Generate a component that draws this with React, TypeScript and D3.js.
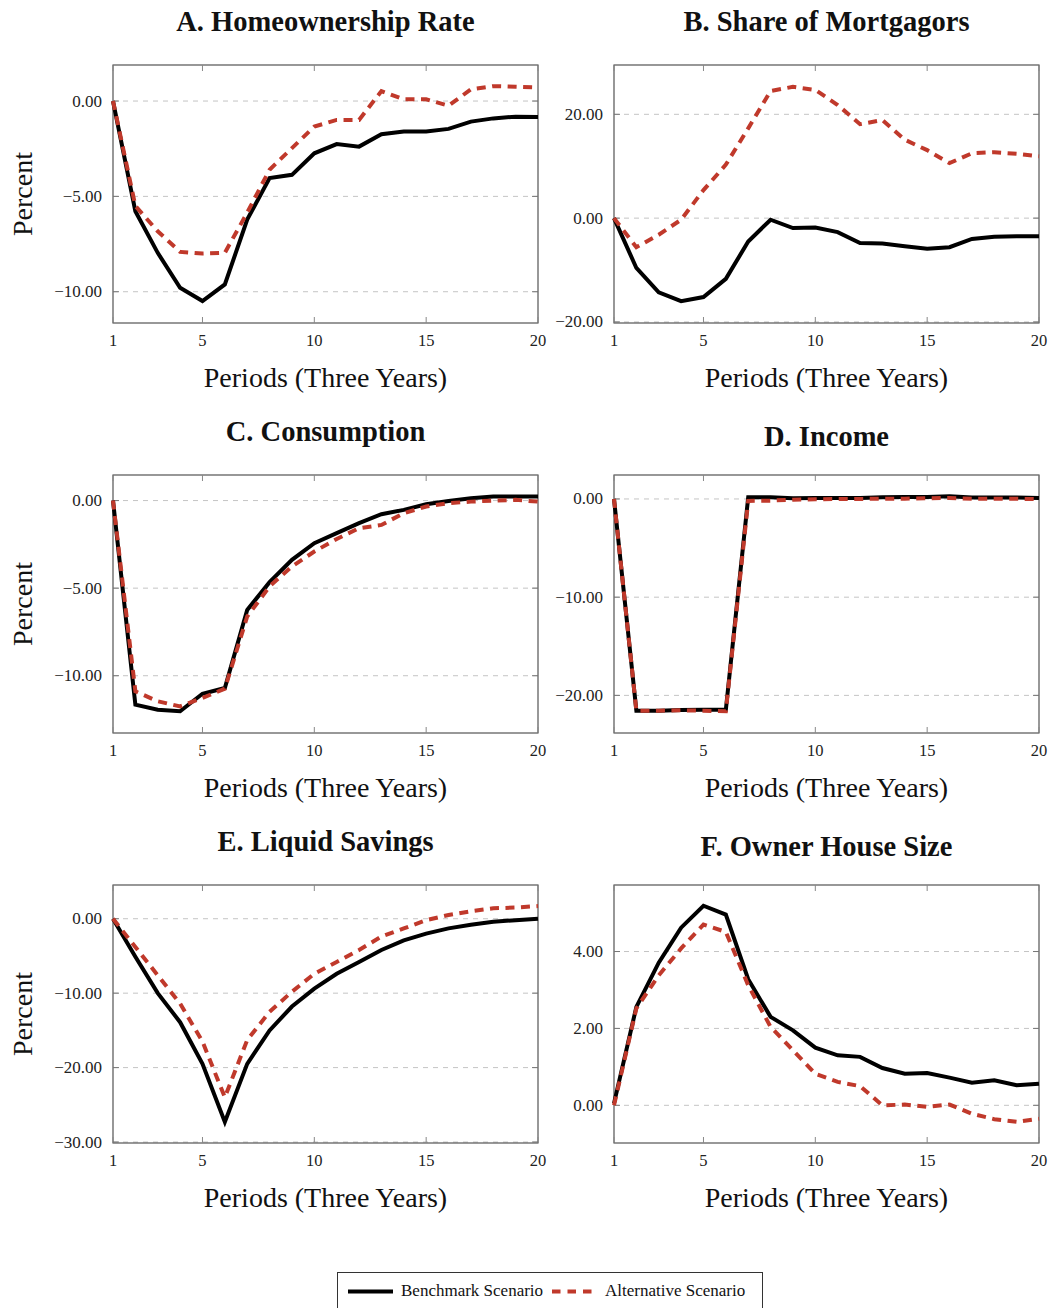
import React from 'react';
import * as d3 from 'd3';

// ---------- DATA ----------
const periods = [1, 2, 3, 4, 5, 6, 7, 8, 9, 10, 11, 12, 13, 14, 15, 16, 17, 18, 19, 20];
const xTicks = [1, 5, 10, 15, 20];

const homeBench = [0, -5.78, -7.96, -9.79, -10.49, -9.62, -6.22, -4.04, -3.87, -2.74, -2.26, -2.39, -1.74, -1.6, -1.6, -1.46, -1.08, -0.91, -0.82, -0.84];
const homeAlt = [0, -5.5, -6.83, -7.91, -8.0, -7.96, -5.85, -3.6, -2.47, -1.34, -0.99, -0.99, 0.52, 0.09, 0.09, -0.24, 0.61, 0.78, 0.75, 0.71];

const mortBench = [0, -9.6, -14.3, -16.0, -15.2, -11.7, -4.5, -0.3, -1.9, -1.8, -2.7, -4.8, -4.9, -5.4, -5.9, -5.6, -4.0, -3.6, -3.5, -3.5];
const mortAlt = [0, -5.6, -3.2, -0.3, 5.4, 10.3, 17.3, 24.5, 25.3, 24.7, 21.8, 18.1, 18.9, 15.1, 13.1, 10.6, 12.5, 12.7, 12.4, 11.9];

const consBench = [0, -11.65, -11.94, -12.03, -11.03, -10.7, -6.24, -4.66, -3.38, -2.43, -1.86, -1.29, -0.78, -0.53, -0.21, -0.02, 0.13, 0.23, 0.23, 0.23];
const consAlt = [0, -10.89, -11.46, -11.75, -11.27, -10.74, -6.62, -4.9, -3.76, -2.91, -2.19, -1.58, -1.39, -0.72, -0.34, -0.15, -0.06, 0.0, 0.04, -0.06];

const incBench = [0, -21.56, -21.56, -21.5, -21.46, -21.46, 0.17, 0.17, 0.07, 0.1, 0.1, 0.1, 0.17, 0.2, 0.2, 0.27, 0.14, 0.14, 0.14, 0.1];
const incAlt = [0, -21.56, -21.56, -21.52, -21.56, -21.62, -0.2, -0.17, -0.07, -0.03, 0.0, 0.0, 0.03, 0.03, 0.07, 0.1, 0.03, 0.03, 0.03, -0.03];

const savBench = [0, -5.1, -10.0, -13.9, -19.5, -27.3, -19.5, -15.0, -11.8, -9.4, -7.4, -5.8, -4.2, -2.9, -2.0, -1.3, -0.8, -0.4, -0.2, 0.0];
const savAlt = [0, -3.8, -7.6, -11.4, -16.5, -24.0, -16.3, -12.5, -9.8, -7.4, -5.8, -4.2, -2.4, -1.3, -0.2, 0.5, 1.0, 1.4, 1.5, 1.7];

const houseBench = [0.05, 2.56, 3.71, 4.62, 5.19, 4.96, 3.28, 2.3, 1.95, 1.5, 1.3, 1.26, 0.97, 0.82, 0.84, 0.72, 0.59, 0.65, 0.52, 0.56];
const houseAlt = [0, 2.52, 3.38, 4.08, 4.7, 4.51, 3.12, 2.04, 1.43, 0.82, 0.61, 0.5, 0.0, 0.02, -0.04, 0.02, -0.22, -0.36, -0.43, -0.35];

const titles = ['A. Homeownership Rate', 'B. Share of Mortgagors', 'C. Consumption', 'D. Income', 'E. Liquid Savings', 'F. Owner House Size'];
const yDomains: [number, number][] = [[-11.64, 1.89], [-20.2, 29.5], [-13.27, 1.46], [-23.83, 2.44], [-30.13, 4.53], [-0.98, 5.73]];
const yTicksList = [[-10, -5, 0], [-20, 0, 20], [-10, -5, 0], [-20, -10, 0], [-30, -20, -10, 0], [0, 2, 4]];
const benchSeries = [homeBench, mortBench, consBench, incBench, savBench, houseBench];
const altSeries = [homeAlt, mortAlt, consAlt, incAlt, savAlt, houseAlt];

const xLabel = 'Periods (Three Years)';
const yLabel = 'Percent';
const legendLabels = ['Benchmark Scenario', 'Alternative Scenario'];

// ---------- STYLE / LAYOUT ----------
const FONT = '"Liberation Serif", "Times New Roman", serif';
const RED = '#c0392b';
const W = 425;
const H = 258;
const lefts = [113, 614];
const tops = [65, 475, 885];
const titleBaselines = [31, 31, 441, 446, 851, 856];

const fmt = d3.format('.2f');

function Panel({ idx }: { idx: number }) {
  const col = idx % 2;
  const row = Math.floor(idx / 2);
  const left = lefts[col];
  const top = tops[row];
  const x = d3.scaleLinear().domain([1, 20]).range([left, left + W]);
  const y = d3.scaleLinear().domain(yDomains[idx]).range([top + H, top]);
  const line = d3
    .line<number>()
    .x((_, i) => x(periods[i]))
    .y((d) => y(d));
  const cx = left + W / 2;
  return (
    <g>
      <text x={cx} y={titleBaselines[idx]} textAnchor="middle" fontFamily={FONT} fontWeight="bold" fontSize={28.5} fill="#111">
        {titles[idx]}
      </text>
      {/* grid */}
      {yTicksList[idx].map((t) => (
        <line key={'g' + t} x1={left} x2={left + W} y1={y(t)} y2={y(t)} stroke="#c4c4c4" strokeWidth={1} strokeDasharray="5,5" />
      ))}
      {/* frame */}
      <rect x={left} y={top} width={W} height={H} fill="none" stroke="#444" strokeWidth={1.1} />
      {/* x ticks */}
      {xTicks.map((t) => (
        <g key={'x' + t}>
          <line x1={x(t)} x2={x(t)} y1={top} y2={top + 6} stroke="#888" strokeWidth={1} />
          <line x1={x(t)} x2={x(t)} y1={top + H} y2={top + H - 6} stroke="#888" strokeWidth={1} />
          <text x={x(t)} y={top + H + 23} textAnchor="middle" fontFamily={FONT} fontSize={16.5} fill="#222">
            {t}
          </text>
        </g>
      ))}
      {/* y ticks */}
      {yTicksList[idx].map((t) => (
        <g key={'y' + t}>
          <line x1={left} x2={left + 6} y1={y(t)} y2={y(t)} stroke="#777" strokeWidth={1} />
          <line x1={left + W} x2={left + W - 6} y1={y(t)} y2={y(t)} stroke="#777" strokeWidth={1} />
          <text x={left - 11} y={y(t) + 5.5} textAnchor="end" fontFamily={FONT} fontSize={17} fill="#222">
            {fmt(t)}
          </text>
        </g>
      ))}
      {/* series */}
      <path d={line(benchSeries[idx]) || ''} fill="none" stroke="#000" strokeWidth={4} strokeLinejoin="miter" />
      <path d={line(altSeries[idx]) || ''} fill="none" stroke={RED} strokeWidth={4} strokeDasharray="9,6.5" />
      {/* axis labels */}
      <text x={cx} y={top + H + 64} textAnchor="middle" fontFamily={FONT} fontSize={28} fill="#111">
        {xLabel}
      </text>
      {col === 0 && (
        <text transform={`translate(32, ${top + H / 2}) rotate(-90)`} textAnchor="middle" fontFamily={FONT} fontSize={28} fill="#111">
          {yLabel}
        </text>
      )}
    </g>
  );
}

function Legend() {
  return (
    <g>
      <rect x={337.5} y={1272.5} width={425} height={60} fill="#fff" stroke="#333" strokeWidth={1} />
      <line x1={348} x2={393} y1={1291.5} y2={1291.5} stroke="#000" strokeWidth={4} />
      <text x={401} y={1296} fontFamily={FONT} fontSize={17} fill="#111">
        {legendLabels[0]}
      </text>
      <line x1={552} x2={593} y1={1291.5} y2={1291.5} stroke={RED} strokeWidth={4} strokeDasharray="8.5,7" />
      <text x={605} y={1296} fontFamily={FONT} fontSize={17} fill="#111">
        {legendLabels[1]}
      </text>
    </g>
  );
}

export default function App() {
  return (
    <svg
      width={1050}
      height={1308}
      viewBox="0 0 1050 1308"
      style={{ position: 'absolute', left: 0, top: 0, background: '#fff' }}
    >
      <rect x={0} y={0} width={1050} height={1308} fill="#fff" />
      {titles.map((_, i) => (
        <Panel key={i} idx={i} />
      ))}
      <Legend />
    </svg>
  );
}
